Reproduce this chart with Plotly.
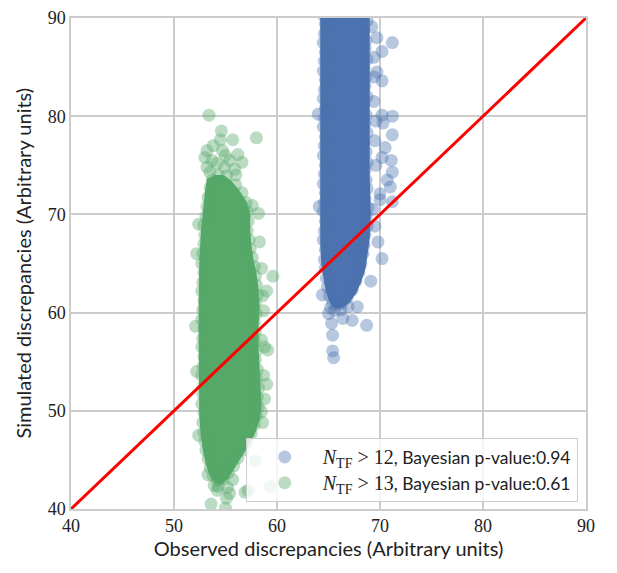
import plotly.graph_objects as go

BLUE = "#4C72B0"
GREEN = "#55A868"

# Dense core of each posterior-predictive cloud: outline in (observed, simulated)
blue_core = [
    (69.0, 91.0), (69.0, 86.0), (69.0, 80.0), (69.0, 74.0), (69.1, 70.0), (69.0, 67.5),
    (68.8, 66.0), (68.6, 64.5), (68.2, 63.2), (67.7, 62.0), (67.1, 61.1), (66.5, 60.6),
    (65.9, 60.4), (65.4, 60.6), (65.0, 61.3), (64.7, 62.4), (64.5, 63.6), (64.3, 65.0),
    (64.2, 67.0), (64.2, 72.0), (64.2, 80.0), (64.2, 86.0), (64.2, 91.0),
]
green_core = [
    (53.2, 73.6), (54.0, 74.0), (54.8, 74.0), (55.5, 73.5), (56.3, 72.5), (57.0, 71.4),
    (57.4, 70.2), (57.4, 68.5), (57.5, 67.0), (57.7, 65.5), (58.0, 64.0), (58.2, 62.5),
    (58.3, 60.5), (58.2, 58.5), (58.2, 56.5), (58.3, 54.5), (58.4, 52.5), (58.5, 50.5),
    (58.3, 49.0), (57.8, 47.5), (57.1, 46.2), (56.4, 45.0), (55.7, 43.9), (55.2, 43.0),
    (54.6, 42.5), (54.0, 42.6), (53.5, 43.3), (53.1, 44.5), (52.8, 46.0), (52.6, 47.5),
    (52.45, 49.5), (52.4, 53.0), (52.4, 57.0), (52.4, 61.0), (52.45, 65.0), (52.6, 68.0),
    (52.8, 70.5), (53.0, 72.3),
]

# Individual draws along the rim of each cloud
blue_rim = [
    (68.55, 90.6), (68.75, 89.7), (68.45, 88.8), (68.65, 87.7), (68.55, 86.9), (68.75, 85.8),
    (68.45, 84.9), (68.65, 84.0), (68.55, 83.1), (68.75, 82.0), (68.45, 81.2), (68.65, 80.1),
    (68.55, 79.2), (68.75, 78.3), (68.45, 77.3), (68.65, 76.4), (68.75, 75.3), (68.55, 74.5),
    (68.65, 73.5), (68.75, 72.6), (68.55, 71.6), (68.85, 70.7), (68.65, 69.8), (68.75, 68.8),
    (68.55, 67.9), (68.45, 66.9), (68.35, 66.0), (68.15, 65.0), (67.95, 64.1), (67.65, 63.2),
    (67.3, 62.3), (66.8, 61.5), (66.3, 61.0), (65.8, 60.8), (65.4, 61.0), (65.1, 61.7),
    (64.9, 62.6), (64.8, 63.5), (64.7, 64.5), (64.6, 65.4), (64.7, 66.4), (64.5, 67.4),
    (64.6, 68.3), (64.7, 69.3), (64.5, 70.3), (64.6, 71.2), (64.7, 72.2), (64.5, 73.1),
    (64.6, 74.1), (64.7, 75.0), (64.5, 76.0), (64.6, 77.0), (64.7, 77.9), (64.5, 78.9),
    (64.6, 79.8), (64.7, 80.8), (64.5, 81.8), (64.6, 82.7), (64.7, 83.7), (64.5, 84.6),
    (64.6, 85.6), (64.7, 86.5), (64.5, 87.5), (64.6, 88.4), (64.7, 89.4), (64.5, 90.3),
]
# Stray blue draws
blue_strays = [
    (71.2, 87.5), (70.2, 86.6), (69.2, 89.1), (69.7, 84.5), (70.2, 83.6), (71.2, 80.0),
    (70.2, 80.1), (69.7, 88.0), (71.2, 78.1), (70.3, 79.3), (70.5, 76.8), (71.2, 74.3),
    (71.0, 72.8), (70.7, 73.5), (70.0, 71.5), (70.2, 75.8), (70.0, 72.1), (71.2, 71.3),
    (70.2, 65.5), (69.5, 68.8), (69.4, 81.5), (69.5, 77.5), (69.3, 70.5), (69.6, 75.0),
    (69.4, 86.0), (69.6, 79.5), (71.1, 75.5), (69.8, 67.2), (69.1, 63.2), (69.4, 84.0),
    (65.0, 59.9), (65.3, 58.9), (66.4, 59.4), (67.3, 59.2), (68.7, 58.7), (65.4, 57.7),
    (65.4, 56.1), (65.5, 55.4), (65.6, 60.2), (66.2, 60.3), (66.9, 60.6), (65.2, 60.5),
    (67.8, 60.6), (64.4, 61.8), (64.1, 70.8), (64.0, 80.2),
]

green_rim = [
    (56.0, 73.0), (56.6, 72.2), (57.0, 71.2), (57.1, 70.3), (57.2, 69.3), (57.1, 68.3),
    (57.3, 67.4), (57.4, 66.5), (57.6, 65.6), (57.8, 64.7), (57.9, 63.7), (58.0, 62.8),
    (58.1, 61.8), (57.9, 60.9), (58.0, 59.9), (57.8, 59.0), (57.9, 58.0), (57.8, 57.1),
    (58.0, 56.1), (57.9, 55.2), (58.1, 54.2), (58.0, 53.3), (58.2, 52.3), (58.1, 51.4),
    (58.2, 50.4), (58.0, 49.5), (57.8, 48.6), (57.5, 47.7), (57.1, 46.8), (56.7, 46.0),
    (56.2, 45.2), (55.8, 44.4), (55.3, 43.7), (54.8, 43.1), (54.2, 42.9), (53.8, 43.4),
    (53.5, 44.2), (53.3, 45.1), (53.1, 46.0), (53.0, 46.9), (52.9, 47.8), (52.8, 48.8),
    (52.9, 49.8), (52.7, 50.7), (52.8, 51.7), (52.9, 52.6), (52.7, 53.6), (52.8, 54.5),
    (52.9, 55.5), (52.7, 56.5), (52.8, 57.4), (52.9, 58.4), (52.7, 59.3), (52.8, 60.3),
    (52.9, 61.2), (52.7, 62.2), (52.8, 63.1), (52.9, 64.1), (52.7, 65.0), (52.8, 66.0),
    (52.9, 67.0), (53.0, 67.9), (52.9, 68.9), (53.1, 69.8), (53.2, 70.8), (53.3, 71.7),
    (53.5, 72.7), (53.7, 73.5), (54.3, 74.0), (55.1, 73.9),
]
green_strays = [
    (58.2, 70.1), (58.5, 64.5), (59.6, 63.7), (59.0, 62.2), (58.6, 61.7), (58.7, 60.2),
    (58.5, 57.2), (59.1, 56.2), (58.8, 56.5), (58.7, 53.6), (59.0, 52.7), (58.8, 51.2),
    (58.5, 49.9), (58.6, 48.8), (57.9, 44.9), (57.2, 41.9), (59.3, 42.3), (56.9, 41.7),
    (57.6, 70.9), (58.3, 67.2),
    (53.4, 80.1), (54.6, 78.5), (54.5, 77.6), (55.7, 77.6), (58.0, 77.8), (53.2, 76.5),
    (54.7, 76.5), (56.2, 76.1), (56.6, 75.3), (53.7, 75.5), (55.4, 75.5), (53.5, 74.3),
    (54.9, 74.8), (53.0, 75.8), (55.9, 74.6), (54.2, 75.2), (53.8, 77.0), (55.0, 76.0),
    (56.0, 74.0), (53.2, 74.8),
    (53.6, 40.5), (55.0, 40.1), (55.1, 41.1), (54.2, 41.9), (55.4, 41.6), (54.3, 42.3),
    (55.2, 42.2), (53.9, 42.4), (53.3, 43.5), (55.7, 43.0),
    (52.2, 66.0), (52.1, 58.6), (52.2, 54.0), (52.4, 47.5), (52.4, 69.0),
]

diag = [40, 90]

serif = "font-family:'Liberation Serif';font-size:20px"
labels = [
    f"<span style=\"{serif}\"><i>N</i><sub>TF</sub> &gt; 12</span>, Bayesian p-value:0.94",
    f"<span style=\"{serif}\"><i>N</i><sub>TF</sub> &gt; 13</span>, Bayesian p-value:0.61",
]
x_title = "Observed discrepancies (Arbitrary units)"
y_title = "Simulated discrepancies (Arbitrary units)"


def xs(pts):
    return [p[0] for p in pts]


def ys(pts):
    return [p[1] for p in pts]


fig = go.Figure()

for core, pts, color, name in [
    (blue_core, blue_rim + blue_strays, BLUE, labels[0]),
    (green_core, green_rim + green_strays, GREEN, labels[1]),
]:
    fig.add_trace(go.Scatter(x=xs(core), y=ys(core), mode="lines", fill="toself",
                             fillcolor=color, line=dict(width=0, color=color),
                             hoverinfo="skip", showlegend=False))
    fig.add_trace(go.Scatter(x=xs(pts), y=ys(pts), mode="markers", name=name,
                             marker=dict(size=13, color=color, opacity=0.4,
                                         line=dict(width=0))))

fig.add_trace(go.Scatter(x=diag, y=diag, mode="lines", line=dict(color="#ff0000", width=3),
                         showlegend=False, hoverinfo="skip"))

title_font = dict(family="Lato", size=20, color="#222222")
axis_common = dict(
    range=[40, 90], dtick=10, showgrid=True, gridcolor="#cccccc", gridwidth=1.5,
    showline=True, linecolor="#cccccc", linewidth=1.5, mirror=True, zeroline=False,
    ticks="", tickfont=dict(family="Liberation Serif", size=18, color="#222222"),
)

fig.update_layout(
    width=617, height=573,
    margin=dict(l=71, r=31, t=8, b=64),
    plot_bgcolor="white", paper_bgcolor="white",
    xaxis=dict(axis_common, title=dict(text=x_title, standoff=6, font=title_font)),
    yaxis=dict(axis_common),
    annotations=[dict(text=y_title, textangle=-90, font=title_font, showarrow=False,
                      xref="paper", yref="paper", x=-0.095, y=0.5,
                      xanchor="center", yanchor="middle")],
    legend=dict(x=0.984, y=0.014, xanchor="right", yanchor="bottom",
                bgcolor="rgba(255,255,255,0.8)", bordercolor="#cccccc", borderwidth=1,
                font=dict(family="Lato", size=17.5, color="#222222"),
                itemwidth=66, tracegroupgap=0),
    showlegend=True,
)

fig.write_html("out.html")
